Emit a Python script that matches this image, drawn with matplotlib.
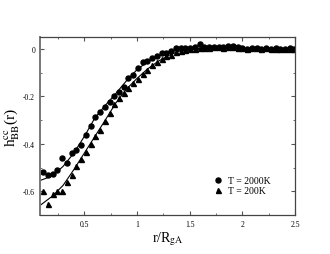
import numpy as np, matplotlib
matplotlib.use("Agg"); import matplotlib.pyplot as plt
from matplotlib.ticker import MultipleLocator, FormatStrFormatter

# r/R_gA sample points (same grid for both temperatures)
r = [0.11, 0.155, 0.20, 0.245, 0.29, 0.335, 0.38, 0.425, 0.47, 0.515,
     0.56, 0.605, 0.65, 0.695, 0.74, 0.785, 0.83, 0.875, 0.92, 0.965,
     1.01, 1.055, 1.10, 1.145, 1.19, 1.235, 1.28, 1.325, 1.37, 1.415,
     1.46, 1.505, 1.55, 1.595, 1.64, 1.685, 1.73, 1.775, 1.82, 1.865,
     1.91, 1.955, 2.00, 2.045, 2.09, 2.135, 2.18, 2.225, 2.27, 2.315,
     2.36, 2.405, 2.45, 2.495]
h_2000 = [-0.520, -0.531, -0.527, -0.510, -0.461, -0.481, -0.437, -0.427, -0.405, -0.365,
          -0.327, -0.289, -0.264, -0.243, -0.222, -0.200, -0.180, -0.159, -0.124, -0.110,
          -0.079, -0.056, -0.053, -0.040, -0.030, -0.018, -0.016, -0.008, 0.002, 0.004,
          0.003, 0.005, 0.008, 0.020, 0.007, 0.006, 0.008, 0.009, 0.006, 0.010,
          0.011, 0.007, 0.003, 0.001, 0.004, 0.005, 0.001, 0.003, 0.000, 0.002,
          0.000, 0.001, 0.002, 0.001]
h_200 = [-0.599, -0.655, -0.611, -0.599, -0.597, -0.559, -0.531, -0.495, -0.465, -0.435,
         -0.400, -0.369, -0.341, -0.306, -0.272, -0.233, -0.205, -0.186, -0.167, -0.142,
         -0.127, -0.108, -0.088, -0.070, -0.055, -0.042, -0.032, -0.024, -0.015, -0.010,
         -0.006, -0.002, 0.000, 0.004, 0.005, 0.004, 0.006, 0.007, 0.004, 0.008,
         0.008, 0.005, 0.002, 0.000, 0.003, 0.003, 0.000, 0.002, -0.001, 0.001,
         -0.001, 0.000, 0.001, 0.000]

# fitted curves
fit_r = [0.08, 0.2, 0.3, 0.4, 0.5, 0.6, 0.7, 0.8, 0.9, 1.0, 1.1, 1.2, 1.3, 1.4, 1.5, 1.7, 2.0, 2.5]
fit_2000 = [-0.555, -0.535, -0.495, -0.44, -0.37, -0.292, -0.238, -0.188, -0.135, -0.088,
            -0.055, -0.03, -0.013, -0.004, 0.0, 0.003, 0.0, 0.0]
fit_200 = [-0.66, -0.62, -0.575, -0.51, -0.44, -0.37, -0.30, -0.228, -0.17, -0.125,
           -0.085, -0.053, -0.028, -0.01, -0.003, 0.0, 0.0, 0.0]

plt.rcParams.update({"font.family": ["Liberation Serif", "DejaVu Serif"],
                     "mathtext.fontset": "stix", "axes.unicode_minus": False})
fig = plt.figure(figsize=(3.3, 2.55), dpi=100)
ax = fig.add_axes([0.121, 0.153, 0.773, 0.698])

ax.plot(fit_r, fit_2000, color="black", lw=0.8)
ax.plot(fit_r, fit_200, color="black", lw=0.8)
ax.plot(r, h_2000, "o", color="black", ms=3.6, ls="none", label="T = 2000K")
ax.plot(r, h_200, "^", color="black", ms=3.6, ls="none", label="T = 200K")

ax.set_xlim(0.08, 2.5); ax.set_ylim(-0.7, 0.05)
ax.xaxis.set_major_locator(MultipleLocator(0.5)); ax.xaxis.set_minor_locator(MultipleLocator(0.25))
ax.yaxis.set_major_locator(MultipleLocator(0.2)); ax.yaxis.set_minor_locator(MultipleLocator(0.1))
ax.xaxis.set_major_formatter(FormatStrFormatter("%g")); ax.yaxis.set_major_formatter(FormatStrFormatter("%g"))
ax.tick_params(which="both", direction="in", top=True, right=True, labelsize=5.5, color="#555555")
ax.tick_params(which="major", length=3, width=0.8)
ax.tick_params(which="minor", length=1.5, width=0.6)
for s in ax.spines.values():
    s.set_color("#444444"); s.set_linewidth(0.9)
ax.spines["left"].set_linewidth(1.4); ax.spines["left"].set_color("#777777")

ax.set_xlabel(r"r/R$_{\rm gA}$", fontsize=10, labelpad=1)
ax.set_ylabel(r"h$^{\rm cc}_{\rm BB}$(r)", fontsize=11, labelpad=1)
ax.legend(loc="lower left", bbox_to_anchor=(0.66, 0.085), frameon=False, fontsize=7,
          handlelength=1, handletextpad=0.5, labelspacing=0.1, borderpad=0)

fig.savefig("out.png", dpi=100)
